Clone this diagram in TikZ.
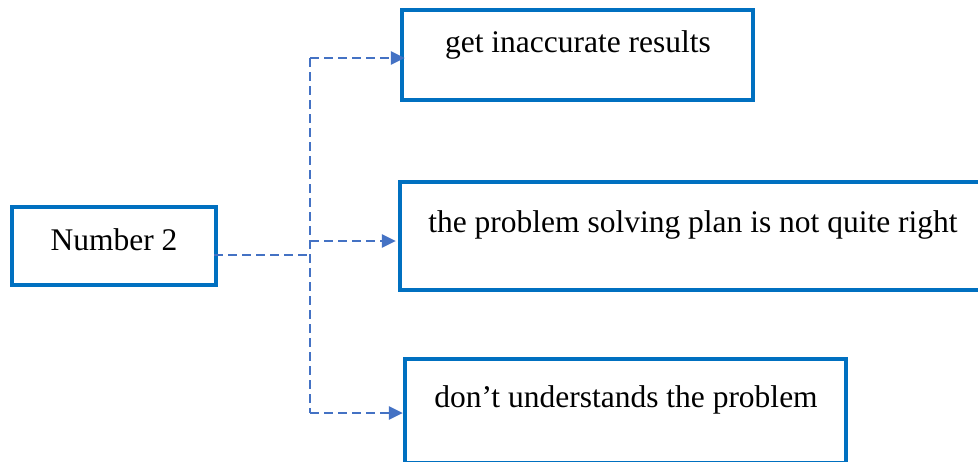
\documentclass[tikz,border=0pt]{standalone}
\usepackage{fontspec}
\setmainfont{Liberation Serif}
\usetikzlibrary{arrows.meta}
\definecolor{boxblue}{HTML}{0070C0}
\definecolor{linkblue}{HTML}{4472C4}
\begin{document}
\begin{tikzpicture}[x=1pt,y=-1pt,
  box/.style={draw=boxblue,line width=4.2pt,inner sep=0pt,fill=white},
  lbl/.style={anchor=base,inner sep=0pt,font=\fontsize{31.5}{38}\selectfont},
  conn/.style={draw=linkblue,line width=2.5pt,dash pattern=on 9pt off 5pt},
  tip/.style={-{Triangle[length=14pt,width=13pt]}}]
\useasboundingbox (0,0) rectangle (978,461);

% boxes
\node[box,minimum width=204pt,minimum height=78pt] (n2) at (114,246) {};
\node[box,minimum width=351pt,minimum height=90pt] (b1) at (577.5,55) {};
\node[box,minimum width=590pt,minimum height=108pt] (b2) at (695,236) {};
\node[box,minimum width=441pt,minimum height=104pt] (b3) at (625.5,411) {};

% labels
\node[lbl] (t0) at (114,250) {Number 2};
\node[lbl] (t1) at (578,52) {get inaccurate results};
\node[lbl] (t2) at (693,232) {the problem solving plan is not quite right};
\node[lbl] (t3) at (626,407) {don’t understands the problem};

% connector junctions
\coordinate (j) at (310,255);
\coordinate (top) at (310,58);
\coordinate (mid) at (310,241);
\coordinate (bot) at (310,413);

\draw[conn] ([xshift=-4pt]n2.east |- j) -- (j);
\draw[conn] (top) -- (bot);
\draw[conn,tip] (top) -- ([xshift=5pt]b1.west |- top);
\draw[conn,tip] (mid) -- ([xshift=-2pt]b2.west |- mid);
\draw[conn,tip] (bot) -- (b3.west |- bot);
\end{tikzpicture}
\end{document}
